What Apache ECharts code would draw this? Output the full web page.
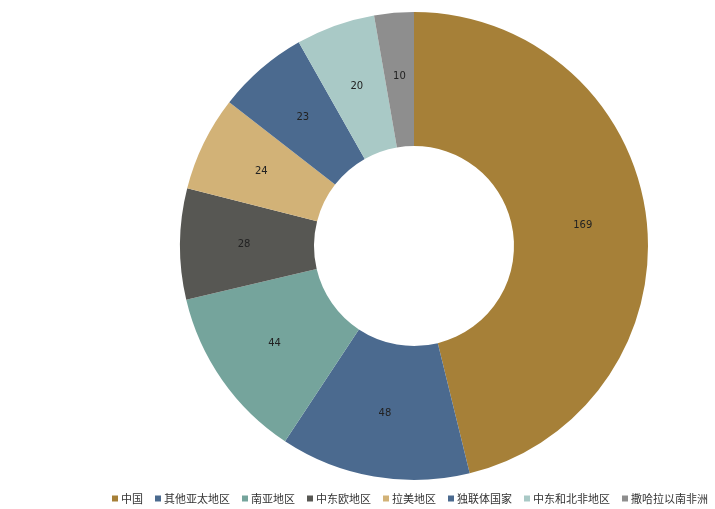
<!DOCTYPE html>
<html>
<head>
<meta charset="utf-8">
<script src="https://cdn.jsdelivr.net/npm/echarts@6/dist/echarts.min.js"></script>
<style>
  html, body { margin: 0; padding: 0; background: #fff; }
  #chart { width: 715px; height: 509px; }
</style>
</head>
<body>
<div id="chart"></div>
<script>
// Regions and their counts, clockwise from 12 o'clock
const regions = ['中国', '其他亚太地区', '南亚地区', '中东欧地区', '拉美地区', '独联体国家', '中东和北非地区', '撒哈拉以南非洲'];
const counts = [169, 48, 44, 28, 24, 23, 20, 10];
const colors = ['#A68038', '#4B6A8F', '#75A49C', '#575753', '#D2B277', '#4B6A8F', '#A9C9C6', '#8E8E8E'];

const chart = echarts.init(document.getElementById('chart'), null, { renderer: 'canvas' });

chart.setOption({
  backgroundColor: '#ffffff',
  animation: false,
  color: colors,
  legend: {
    bottom: 5,
    left: 112,
    width: 700,
    padding: 0,
    itemWidth: 6,
    itemHeight: 6,
    itemGap: 12,
    icon: 'rect',
    textStyle: { fontFamily: 'Noto Sans CJK SC', fontSize: 11, color: '#333', padding: [0, 0, 0, -2] },
    data: regions
  },
  series: [{
    type: 'pie',
    center: [414, 246],
    radius: [100, 234],
    startAngle: 90,
    clockwise: true,
    avoidLabelOverlap: false,
    label: {
      show: true,
      position: 'inside',
      formatter: '{c}',
      fontFamily: 'DejaVu Sans',
      fontSize: 10,
      color: '#222'
    },
    labelLine: { show: false },
    itemStyle: { borderWidth: 0 },
    emphasis: { disabled: true },
    data: regions.map((name, i) => ({ name, value: counts[i] }))
  }]
});
</script>
</body>
</html>
